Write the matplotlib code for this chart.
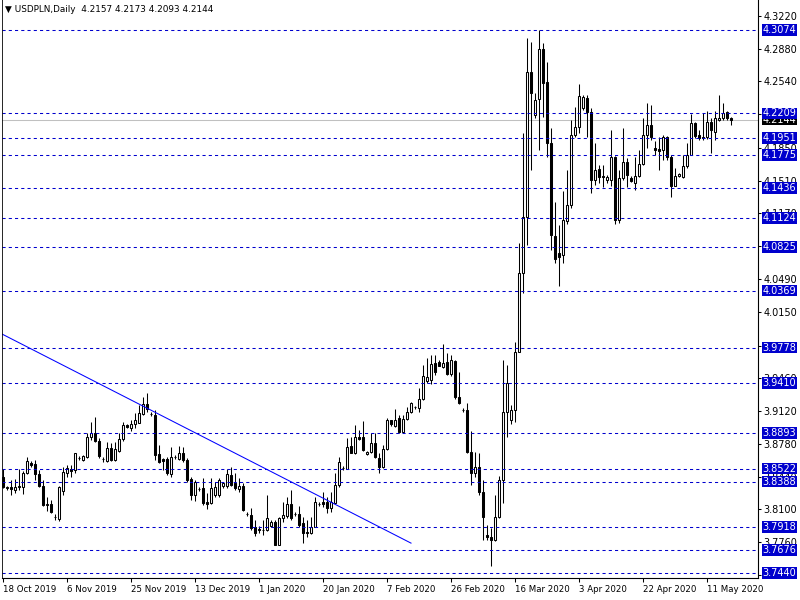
import matplotlib
matplotlib.use("Agg")
import matplotlib.pyplot as plt
from matplotlib.patches import Rectangle

# daily USDPLN bars, 18 Oct 2019 .. 18 May 2020 (sunday bars included)
opens = [
    3.844, 3.832, 3.833, 3.830, 3.833, 3.833, 3.848, 3.858, 3.857, 3.847, 3.834, 3.815,
    3.816, 3.802, 3.800, 3.829, 3.848, 3.852, 3.851, 3.863, 3.861, 3.864, 3.885, 3.889,
    3.881, 3.862, 3.860, 3.874, 3.861, 3.871, 3.883, 3.898, 3.894, 3.899, 3.900, 3.909,
    3.919, 3.909, 3.908, 3.867, 3.862, 3.862, 3.847, 3.864, 3.862, 3.869, 3.861, 3.841,
    3.825, 3.831, 3.832, 3.818, 3.817, 3.825, 3.825, 3.834, 3.834, 3.846, 3.837, 3.831,
    3.834, 3.805, 3.804, 3.792, 3.790, 3.789, 3.789, 3.793, 3.797, 3.773, 3.801, 3.803,
    3.816, 3.805, 3.805, 3.796, 3.787, 3.785, 3.792, 3.816, 3.818, 3.818, 3.811, 3.817,
    3.835, 3.853, 3.852, 3.876, 3.869, 3.885, 3.885, 3.867, 3.870, 3.879, 3.863, 3.854,
    3.873, 3.903, 3.897, 3.905, 3.890, 3.904, 3.911, 3.916, 3.915, 3.925, 3.943, 3.944,
    3.962, 3.963, 3.958, 3.963, 3.950, 3.964, 3.927, 3.913, 3.913, 3.870, 3.848, 3.854,
    3.828, 3.783, 3.781, 3.778, 3.802, 3.840, 3.911, 3.903, 3.913, 3.973, 4.055, 4.113,
    4.264, 4.219, 4.236, 4.288, 4.253, 4.190, 4.094, 4.076, 4.074, 4.109, 4.126, 4.198,
    4.207, 4.226, 4.237, 4.222, 4.152, 4.163, 4.156, 4.152, 4.152, 4.176, 4.110, 4.154,
    4.170, 4.154, 4.149, 4.156, 4.168, 4.198, 4.209, 4.185, 4.184, 4.183, 4.196, 4.176,
    4.146, 4.156, 4.155, 4.166, 4.178, 4.211, 4.198, 4.196, 4.196, 4.212, 4.202, 4.214,
    4.216, 4.222, 4.2157,
]
highs = [
    3.852, 3.834, 3.840, 3.841, 3.852, 3.850, 3.864, 3.860, 3.861, 3.851, 3.840, 3.823,
    3.820, 3.805, 3.834, 3.854, 3.856, 3.856, 3.869, 3.865, 3.866, 3.889, 3.901, 3.906,
    3.884, 3.864, 3.880, 3.879, 3.880, 3.889, 3.901, 3.899, 3.903, 3.910, 3.918, 3.927,
    3.931, 3.911, 3.913, 3.877, 3.863, 3.864, 3.875, 3.866, 3.876, 3.875, 3.863, 3.844,
    3.840, 3.833, 3.843, 3.827, 3.843, 3.838, 3.843, 3.838, 3.852, 3.854, 3.848, 3.843,
    3.837, 3.807, 3.811, 3.799, 3.793, 3.799, 3.825, 3.799, 3.799, 3.802, 3.818, 3.823,
    3.830, 3.807, 3.814, 3.802, 3.799, 3.802, 3.823, 3.818, 3.828, 3.823, 3.828, 3.848,
    3.864, 3.855, 3.884, 3.885, 3.898, 3.892, 3.902, 3.871, 3.889, 3.889, 3.868, 3.877,
    3.905, 3.903, 3.914, 3.908, 3.908, 3.916, 3.921, 3.917, 3.936, 3.960, 3.967, 3.970,
    3.970, 3.965, 3.982, 3.972, 3.970, 3.965, 3.953, 3.915, 3.920, 3.891, 3.870, 3.869,
    3.840, 3.794, 3.791, 3.825, 3.845, 3.965, 3.960, 3.918, 3.984, 4.086, 4.200, 4.299,
    4.295, 4.242, 4.3074, 4.294, 4.274, 4.206, 4.129, 4.105, 4.140, 4.162, 4.214, 4.227,
    4.251, 4.240, 4.240, 4.226, 4.190, 4.167, 4.167, 4.157, 4.204, 4.177, 4.162, 4.206,
    4.175, 4.156, 4.176, 4.183, 4.216, 4.232, 4.230, 4.192, 4.196, 4.198, 4.197, 4.178,
    4.164, 4.159, 4.178, 4.190, 4.220, 4.212, 4.204, 4.221, 4.223, 4.216, 4.223, 4.240,
    4.232, 4.223, 4.2173,
]
lows = [
    3.832, 3.830, 3.825, 3.827, 3.830, 3.826, 3.847, 3.854, 3.840, 3.833, 3.813, 3.808,
    3.806, 3.799, 3.798, 3.825, 3.844, 3.844, 3.848, 3.861, 3.860, 3.863, 3.882, 3.880,
    3.863, 3.859, 3.859, 3.860, 3.860, 3.870, 3.881, 3.894, 3.891, 3.894, 3.900, 3.908,
    3.911, 3.907, 3.861, 3.858, 3.851, 3.846, 3.844, 3.862, 3.861, 3.859, 3.838, 3.820,
    3.819, 3.829, 3.815, 3.810, 3.816, 3.823, 3.823, 3.832, 3.832, 3.834, 3.830, 3.828,
    3.808, 3.803, 3.789, 3.782, 3.786, 3.783, 3.788, 3.792, 3.773, 3.773, 3.797, 3.801,
    3.799, 3.803, 3.792, 3.775, 3.781, 3.784, 3.792, 3.814, 3.812, 3.806, 3.807, 3.817,
    3.833, 3.851, 3.852, 3.868, 3.867, 3.882, 3.871, 3.866, 3.869, 3.863, 3.848, 3.853,
    3.872, 3.897, 3.895, 3.889, 3.889, 3.903, 3.910, 3.914, 3.911, 3.923, 3.941, 3.940,
    3.949, 3.959, 3.957, 3.949, 3.948, 3.925, 3.919, 3.911, 3.868, 3.835, 3.844, 3.825,
    3.778, 3.778, 3.751, 3.777, 3.801, 3.817, 3.885, 3.899, 3.901, 3.973, 4.035, 4.084,
    4.162, 4.216, 4.183, 4.217, 4.176, 4.079, 4.066, 4.042, 4.066, 4.106, 4.123, 4.196,
    4.200, 4.224, 4.196, 4.138, 4.147, 4.149, 4.144, 4.149, 4.145, 4.106, 4.107, 4.152,
    4.144, 4.150, 4.141, 4.155, 4.167, 4.185, 4.193, 4.178, 4.162, 4.172, 4.172, 4.134,
    4.145, 4.155, 4.154, 4.164, 4.178, 4.195, 4.193, 4.193, 4.194, 4.180, 4.193, 4.213,
    4.214, 4.214, 4.2093,
]
closes = [
    3.833, 3.833, 3.831, 3.833, 3.834, 3.848, 3.860, 3.856, 3.847, 3.834, 3.815, 3.816,
    3.807, 3.802, 3.833, 3.849, 3.853, 3.850, 3.868, 3.863, 3.865, 3.885, 3.889, 3.881,
    3.865, 3.862, 3.874, 3.861, 3.873, 3.883, 3.898, 3.895, 3.899, 3.903, 3.910, 3.919,
    3.914, 3.909, 3.866, 3.859, 3.860, 3.848, 3.864, 3.864, 3.869, 3.861, 3.840, 3.825,
    3.838, 3.831, 3.817, 3.816, 3.832, 3.833, 3.840, 3.837, 3.847, 3.835, 3.832, 3.834,
    3.809, 3.805, 3.791, 3.785, 3.789, 3.789, 3.801, 3.797, 3.773, 3.801, 3.804, 3.816,
    3.801, 3.805, 3.794, 3.786, 3.785, 3.792, 3.818, 3.816, 3.816, 3.811, 3.818, 3.835,
    3.859, 3.853, 3.875, 3.869, 3.885, 3.883, 3.872, 3.870, 3.879, 3.864, 3.854, 3.873,
    3.903, 3.899, 3.903, 3.890, 3.904, 3.911, 3.920, 3.916, 3.925, 3.948, 3.947, 3.961,
    3.953, 3.959, 3.962, 3.950, 3.965, 3.927, 3.920, 3.913, 3.870, 3.848, 3.854, 3.828,
    3.802, 3.781, 3.778, 3.802, 3.840, 3.911, 3.941, 3.913, 3.973, 4.055, 4.113, 4.264,
    4.242, 4.235, 4.288, 4.252, 4.190, 4.095, 4.070, 4.072, 4.110, 4.126, 4.198, 4.207,
    4.239, 4.238, 4.222, 4.152, 4.162, 4.155, 4.155, 4.155, 4.176, 4.110, 4.154, 4.170,
    4.157, 4.151, 4.156, 4.168, 4.198, 4.209, 4.196, 4.183, 4.182, 4.196, 4.176, 4.146,
    4.156, 4.158, 4.166, 4.178, 4.211, 4.197, 4.195, 4.195, 4.212, 4.204, 4.216, 4.216,
    4.221, 4.216, 4.2144,
]

date_bars = [0, 16, 32, 48, 64, 80, 96, 112, 128, 144, 160, 176]
date_labels = ['18 Oct 2019', '6 Nov 2019', '25 Nov 2019', '13 Dec 2019', '1 Jan 2020',
               '20 Jan 2020', '7 Feb 2020', '26 Feb 2020', '16 Mar 2020', '3 Apr 2020',
               '22 Apr 2020', '11 May 2020']

price_ticks = [4.3220, 4.2880, 4.2540, 4.2200, 4.1850, 4.1510, 4.1170, 4.0830, 4.0490,
               4.0150, 3.9800, 3.9460, 3.9120, 3.8780, 3.8440, 3.8100, 3.7760, 3.7420]
levels = [4.3074, 4.2209, 4.1951, 4.1775, 4.1436, 4.1124, 4.0825, 4.0369, 3.9778,
          3.9410, 3.8893, 3.8522, 3.8388, 3.7918, 3.7676, 3.7440]
trend_bars = [-0.75, 102.0]
trend_prices = [3.993, 3.775]
bid = 4.2144

n = len(closes)
assert len(opens) == len(highs) == len(lows) == n

fig = plt.figure(figsize=(8, 6), dpi=100)
ax = fig.add_axes([2 / 800, 22 / 600, 756 / 800, 578 / 600])
ax.set_xlim(-0.25, 188.75)
ax.set_ylim(3.7388, 4.3385)

# candles
for i in range(n):
    o, h, l, c = opens[i], highs[i], lows[i], closes[i]
    ax.vlines(i, min(l, o, c), max(h, o, c), color='black', lw=0.75, zorder=3)
    up = c >= o
    ax.add_patch(Rectangle((i - 0.25, min(o, c)), 0.5, abs(c - o),
                           facecolor='white' if up else 'black',
                           edgecolor='black', lw=0.75, zorder=4))

blue = '#0000CD'
ax.axhline(bid, color='#C0C0C0', lw=0.75, zorder=1)
for lv in levels:
    ax.axhline(lv, color=blue, lw=0.75, ls=(0, (3, 3)), zorder=5)
ax.plot(trend_bars, trend_prices, color='#0000FF', lw=0.75, zorder=5)

# axes look
for s in ['top', 'left']:
    ax.spines[s].set_visible(False)
ax.spines['right'].set_linewidth(0.8)
ax.spines['bottom'].set_linewidth(0.8)
ax.axvline(-0.25, color='black', lw=1.2, zorder=6)

ax.yaxis.tick_right()
ax.set_yticks(price_ticks)
ax.set_yticklabels(['%.4f' % p for p in price_ticks])
ax.tick_params(axis='y', direction='out', length=2.2, width=0.75, pad=1.5, labelsize=7)
ax.set_xticks(date_bars)
ax.set_xticklabels(date_labels, ha='left')
ax.tick_params(axis='x', direction='out', length=3, width=0.75, pad=1.8, labelsize=6.2)

ax.annotate('%.4f' % bid, xy=(1, bid), xycoords=('axes fraction', 'data'),
            xytext=(3.2, 0), textcoords='offset points', ha='left', va='center',
            color='white', fontsize=7, annotation_clip=False, zorder=6,
            bbox=dict(boxstyle='square,pad=0.08', fc='black', ec='none'))
for lv in levels:
    ax.annotate('%.4f' % lv, xy=(1, lv), xycoords=('axes fraction', 'data'),
                xytext=(3.2, 0), textcoords='offset points', ha='left', va='center',
                color='white', fontsize=7, annotation_clip=False, zorder=7,
                bbox=dict(boxstyle='square,pad=0.08', fc=blue, ec='none'))

fig.text(5 / 800, 1 - 10 / 600, '\u25bc USDPLN,Daily  4.2157 4.2173 4.2093 4.2144',
         fontsize=6.4, va='center', ha='left', color='black')

fig.savefig('out.png', dpi=100)
